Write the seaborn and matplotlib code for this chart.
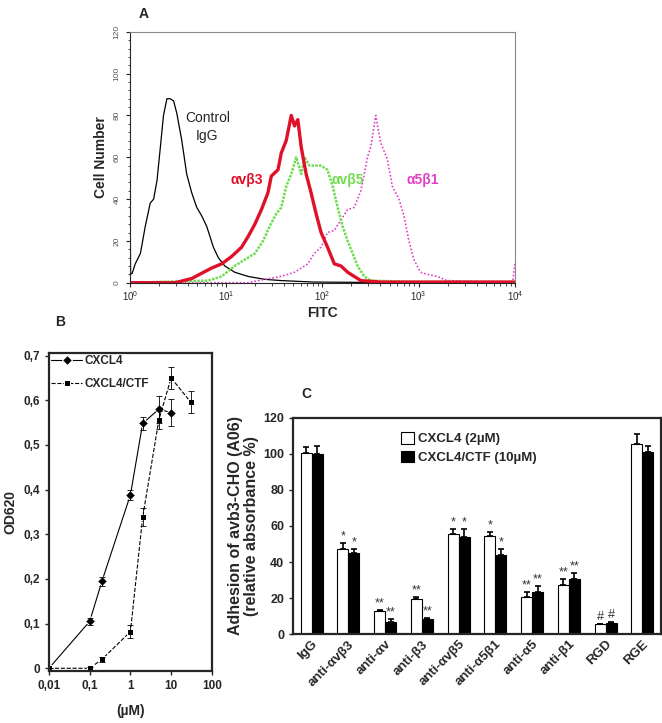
import numpy as np
import pandas as pd
import matplotlib.pyplot as plt
import matplotlib.ticker as mticker
import seaborn as sns

# Panel A: flow cytometry histograms (FITC intensity vs cell number)
igg_fitc = [1.0, 1.02, 1.06, 1.14, 1.29, 1.45, 1.63, 1.77, 1.92, 2.07, 2.24, 2.43, 2.63,
            2.85, 3.08, 3.47, 3.9, 4.4, 4.96, 5.58, 6.29, 7.38, 8.3, 9.7, 12.3, 16.9, 25.2,
            37.5, 82, 183, 1000, 10000]
igg_count = [75, 4, 4.5, 9, 14, 27, 38, 40, 49, 64, 80, 88, 88, 87, 81, 68, 52, 43, 36, 32,
             27, 17, 12, 8, 5, 3, 1.6, 1, 0.3, 0.2, 0, 0]

avb3_fitc = [1.0, 2.96, 3.47, 4.40, 5.58, 7.08, 8.98, 11.4, 14.5, 16.9, 19.9, 23.3, 27.2,
             29.5, 34.6, 37.4, 42.1, 47.5, 51.4, 55.6, 60.2, 67.8, 76.3, 86, 96.9, 113, 133,
             156, 183, 214, 251, 403, 10000]
avb3_count = [0, 0, 0.8, 2, 4.5, 7, 9, 12.5, 17, 22, 28, 35, 43, 51, 54, 62, 68, 80, 75, 78,
              65, 52, 43, 33, 24, 17, 9, 8, 5, 3, 1, 0.3, 0.3]

avb5_fitc = [1.0, 6.54, 8.98, 12.3, 15.6, 19.9, 24.2, 28.4, 33.2, 37.4, 42.1, 47.5, 53.5,
             60.2, 65.2, 73.4, 82.6, 96.9, 113, 128, 144, 162, 183, 206, 232, 272, 318, 891,
             10000]
avb5_count = [0, 1, 3, 8, 11, 14, 20, 27, 33, 36, 46, 52, 60, 52, 60, 56, 56, 56, 54, 46, 36,
              27, 20, 14, 8, 3, 1, 0.4, 0.3]

a5b1_fitc = [1.0, 16.9, 25.2, 37.4, 51.4, 70.6, 82.6, 96.9, 113, 133, 156, 183, 214, 251,
             294, 318, 358, 403, 473, 533, 624, 703, 791, 891, 1045, 1224, 1552, 1969, 4353,
             9500, 10000]
a5b1_count = [0, 0, 1.6, 3, 5, 9, 14, 17, 24, 25, 30, 35, 36, 44, 60, 65, 80, 67, 59, 46, 40,
              32, 20, 11, 5, 4, 3, 1, 0.5, 0.5, 10]

# Panel B: dose response (OD620)
conc_cxcl4 = [0.01, 0.1, 0.2, 1, 2, 5, 10]
od_cxcl4 = [0.0, 0.105, 0.195, 0.388, 0.548, 0.580, 0.572]
err_cxcl4 = [0, 0.008, 0.01, 0.012, 0.015, 0.03, 0.03]
conc_ctf = [0.01, 0.1, 0.2, 1, 2, 5, 10, 30]
od_ctf = [0.0, 0.0, 0.02, 0.082, 0.338, 0.556, 0.650, 0.596]
err_ctf = [0, 0.003, 0.005, 0.015, 0.02, 0.02, 0.025, 0.025]

# Panel C: adhesion with blocking antibodies
treatments = ["IgG", "anti-αvβ3", "anti-αv", "anti-β3", "anti-αvβ5", "anti-α5β1",
              "anti-α5", "anti-β1", "RGD", "RGE"]
adh_cxcl4 = [100.5, 47.3, 12.8, 19.5, 55.5, 54.5, 20.6, 27.3, 5.4, 105.6]
adh_cxcl4_err = [3.2, 3.2, 0.6, 1.3, 2.9, 1.9, 3.0, 3.1, 0.4, 5.2]
adh_ctf = [100.0, 44.9, 6.5, 8.2, 53.8, 43.8, 23.6, 30.8, 6.3, 100.9]
adh_ctf_err = [4.6, 2.6, 1.8, 0.5, 4.6, 3.7, 3.1, 3.0, 0.4, 3.7]
marks_cxcl4 = ["", "*", "**", "**", "*", "*", "**", "**", "#", ""]
marks_ctf = ["", "*", "**", "**", "*", "*", "**", "**", "#", ""]

sns.set_style("ticks")
plt.rcParams["font.family"] = ["Liberation Sans", "DejaVu Sans"]

fig = plt.figure(figsize=(6.62, 7.23), dpi=100)

# ---------------- Panel A ----------------
axA = fig.add_axes([0.196, 0.609, 0.582, 0.347])
hist = pd.concat([
    pd.DataFrame({"fitc": igg_fitc, "count": igg_count, "s": "igg"}),
    pd.DataFrame({"fitc": a5b1_fitc, "count": a5b1_count, "s": "a5b1"}),
    pd.DataFrame({"fitc": avb5_fitc, "count": avb5_count, "s": "avb5"}),
    pd.DataFrame({"fitc": avb3_fitc, "count": avb3_count, "s": "avb3"}),
])
styles = {
    "igg": dict(color="black", lw=0.9, ls="-"),
    "a5b1": dict(color="#e040c8", lw=1.2, ls=(0, (1, 1.2))),
    "avb5": dict(color="#6fdc50", lw=1.8, ls=(0, (1, 0.5))),
    "avb3": dict(color="#e01028", lw=2.4, ls="-"),
}
for key, st in styles.items():
    sub = hist[hist["s"] == key]
    sns.lineplot(data=sub, x="fitc", y="count", estimator=None, sort=False, ax=axA,
                 color=st["color"], lw=st["lw"], linestyle=st["ls"])
axA.set_xscale("log")
axA.set_xlim(1, 10000)
axA.set_ylim(0, 120)
axA.set_yticks(range(0, 121, 20))
axA.yaxis.set_minor_locator(mticker.MultipleLocator(4))
axA.tick_params(axis="y", which="major", labelsize=6, labelcolor="#555555", length=3,
                labelrotation=90)
axA.tick_params(axis="y", which="minor", length=1.5)
axA.tick_params(axis="x", which="major", labelsize=7, length=3, pad=2)
axA.tick_params(axis="x", which="minor", length=2)
for lab in axA.get_yticklabels():
    lab.set_va("center")
axA.set_xlabel("FITC", fontsize=10, fontweight="bold", labelpad=2)
axA.set_ylabel("Cell Number", fontsize=10, fontweight="bold", labelpad=4)
for side in ["top", "right"]:
    axA.spines[side].set_visible(True)
    axA.spines[side].set_color("#888888")
    axA.spines[side].set_linewidth(0.8)
axA.text(6.4, 82, "Control\nIgG", fontsize=10, ha="center", va="top", linespacing=1.3)
axA.text(16.2, 49, "αvβ3", color="#e01028", fontsize=10, fontweight="bold",
         ha="center", va="center")
axA.text(185, 49, "αvβ5", color="#6fdc50", fontsize=10, fontweight="bold",
         ha="center", va="center")
axA.text(1090, 49, "α5β1", color="#e040c8", fontsize=10, fontweight="bold",
         ha="center", va="center")
fig.text(0.21, 0.99, "A", fontsize=10, fontweight="bold", va="top")

# ---------------- Panel B ----------------
axB = fig.add_axes([0.074, 0.072, 0.246, 0.44])
dB1 = pd.DataFrame({"conc": conc_cxcl4, "od": od_cxcl4})
dB2 = pd.DataFrame({"conc": conc_ctf, "od": od_ctf})
sns.lineplot(data=dB1, x="conc", y="od", ax=axB, color="black", lw=0.8, marker="D",
             markersize=5.5, label="CXCL4", estimator=None)
sns.lineplot(data=dB2, x="conc", y="od", ax=axB, color="black", lw=0.8, marker="s",
             markersize=4.5, linestyle="--", dashes=(4, 2), label="CXCL4/CTF", estimator=None)
axB.errorbar(conc_cxcl4, od_cxcl4, yerr=err_cxcl4, fmt="none", ecolor="black",
             elinewidth=0.6, capsize=2, capthick=0.6)
axB.errorbar(conc_ctf, od_ctf, yerr=err_ctf, fmt="none", ecolor="black",
             elinewidth=0.6, capsize=2, capthick=0.6)
axB.set_xscale("log")
axB.set_xlim(0.01, 100)
axB.set_ylim(-0.006, 0.706)
axB.set_xticks([0.01, 0.1, 1, 10, 100])
axB.set_xticklabels(["0,01", "0,1", "1", "10", "100"])
axB.xaxis.set_minor_locator(mticker.NullLocator())
axB.set_yticks(np.arange(0, 0.71, 0.1))
axB.set_yticklabels(["0", "0,1", "0,2", "0,3", "0,4", "0,5", "0,6", "0,7"])
axB.tick_params(labelsize=8.5, length=3, width=1)
for lab in axB.get_xticklabels() + axB.get_yticklabels():
    lab.set_fontweight("bold")
for side in axB.spines.values():
    side.set_visible(True)
    side.set_linewidth(1.6)
axB.set_xlabel("(µM)", fontsize=10, fontweight="bold", labelpad=9)
axB.set_ylabel("OD620", fontsize=10, fontweight="bold", labelpad=4)
axB.legend(loc="upper left", frameon=False, prop={"weight": "bold", "size": 8.5},
           handlelength=2.6, handletextpad=0.2, borderaxespad=0.1, labelspacing=0.9,
           borderpad=0.1)
fig.text(0.083, 0.545, "B", fontsize=10, fontweight="bold", va="bottom")

# ---------------- Panel C ----------------
axC = fig.add_axes([0.443, 0.123, 0.555, 0.299])
dC = pd.concat([
    pd.DataFrame({"treatment": treatments, "adhesion": adh_cxcl4, "cond": "CXCL4 (2µM)"}),
    pd.DataFrame({"treatment": treatments, "adhesion": adh_ctf, "cond": "CXCL4/CTF (10µM)"}),
])
sns.barplot(data=dC, x="treatment", y="adhesion", hue="cond", palette=["white", "black"],
            edgecolor="black", linewidth=0.8, width=0.6, errorbar=None, ax=axC)
for cont, errs, marks in zip(axC.containers, [adh_cxcl4_err, adh_ctf_err],
                             [marks_cxcl4, marks_ctf]):
    xs = [b.get_x() + b.get_width() / 2 for b in cont]
    hs = [b.get_height() for b in cont]
    axC.errorbar(xs, hs, yerr=[[0] * len(errs), errs], fmt="none", ecolor="black",
                 elinewidth=1.2, capsize=2.5, capthick=1.2)
    for x, h, e, m in zip(xs, hs, errs, marks):
        if m:
            axC.text(x, h + e + 0.3, m, ha="center", va="bottom", fontsize=9,
                     color="#333333")
axC.set_xlim(-0.5, 9.5)
axC.set_ylim(0, 120)
axC.set_yticks(range(0, 121, 20))
axC.tick_params(axis="y", labelsize=9, length=3, width=1)
axC.tick_params(axis="x", length=0, pad=3)
axC.set_xticks(range(len(treatments)))
axC.set_xticklabels(treatments, rotation=45, ha="right", rotation_mode="anchor",
                    fontsize=9.5, fontweight="bold")
for lab in axC.get_yticklabels():
    lab.set_fontweight("bold")
for side in axC.spines.values():
    side.set_visible(True)
    side.set_linewidth(1.6)
axC.set_xlabel("")
axC.set_ylabel("Adhesion of avb3-CHO (A06)\n(relative absorbance %)", fontsize=11.5,
               fontweight="bold", labelpad=3, linespacing=1.1)
axC.legend(loc="upper left", bbox_to_anchor=(0.26, 0.99), frameon=False,
           prop={"weight": "bold", "size": 9.5}, handlelength=1.0, handleheight=1.0,
           handletextpad=0.3, labelspacing=0.4)
fig.text(0.455, 0.445, "C", fontsize=10, fontweight="bold", va="bottom")

fig.savefig("out.png", dpi=100)
